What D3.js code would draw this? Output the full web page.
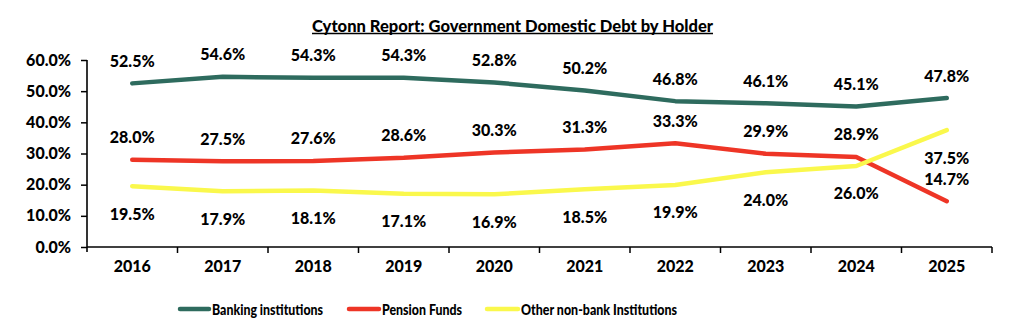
<!DOCTYPE html>
<html><head><meta charset="utf-8">
<script src="https://cdn.jsdelivr.net/npm/d3@7"></script>
<style>
body{margin:0;background:#fff;}
text{font-family:Lato,"Open Sans",sans-serif;font-weight:900;fill:#000;}
</style></head>
<body><svg id="c" width="1012" height="332"></svg>
<script>
const years = ["2016","2017","2018","2019","2020","2021","2022","2023","2024","2025"];
const banking = [52.5,54.6,54.3,54.3,52.8,50.2,46.8,46.1,45.1,47.8];
const pension = [28.0,27.5,27.6,28.6,30.3,31.3,33.3,29.9,28.9,14.7];
const other = [19.5,17.9,18.1,17.1,16.9,18.5,19.9,24.0,26.0,37.5];
const yTicks = [0,10,20,30,40,50,60];
const seriesNames = ["Banking institutions","Pension Funds","Other non-bank Institutions"];
const colors = ["#2E6B5E","#EE3526","#FAF84C"];

const svg = d3.select("#c");
const L=87, R=992, T=60, B=247;
const x = d3.scaleBand().domain(years).range([L,R]);
const y = d3.scaleLinear().domain([0,60]).range([B,T]);
const fs = "16px";

// title
svg.append("text").attr("x",512.5).attr("y",25).attr("text-anchor","middle")
  .attr("dominant-baseline","central").style("font-size","16px").attr("textLength",401)
  .attr("lengthAdjust","spacingAndGlyphs").text("Cytonn Report: Government Domestic Debt by Holder");
svg.append("line").attr("x1",312).attr("x2",713).attr("y1",33.5).attr("y2",33.5)
  .attr("stroke","#000").attr("stroke-width",1.3);

// y axis
const ya = svg.append("g").attr("transform",`translate(${L},0)`)
  .call(d3.axisLeft(y).tickValues(yTicks).tickSize(6).tickPadding(10).tickFormat(d=>d.toFixed(1)+"%"));
ya.select(".domain").remove();
ya.selectAll("line").attr("stroke","#000").attr("stroke-width",1.5);
ya.selectAll("text").style("font-size",fs).attr("font-family",null);
svg.append("line").attr("x1",L).attr("x2",L).attr("y1",T).attr("y2",B+5).attr("stroke","#000").attr("stroke-width",1.6);

// x axis
const xa = svg.append("g").attr("transform",`translate(0,${B})`)
  .call(d3.axisBottom(x).tickSize(0).tickPadding(14));
xa.select(".domain").remove();
xa.selectAll("text").style("font-size",fs).attr("font-family",null);
svg.append("line").attr("x1",L).attr("x2",R).attr("y1",B).attr("y2",B).attr("stroke","#000").attr("stroke-width",1.6);
const bounds = years.map(d=>x(d)).concat([R]);
svg.append("g").selectAll("line").data(bounds.slice(1)).join("line")
  .attr("x1",d=>d).attr("x2",d=>d).attr("y1",B).attr("y2",B+6).attr("stroke","#000").attr("stroke-width",1.5);

const cx = d=>x(d)+x.bandwidth()/2;
const line = d3.line().x((v,i)=>cx(years[i])).y(v=>y(v));
const allSeries = [banking,pension,other];
const offsets = [-23,-23,27];
allSeries.forEach((s,k)=>{
  svg.append("path").attr("d",line(s)).attr("fill","none").attr("stroke",colors[k])
    .attr("stroke-width",4.5).attr("stroke-linecap","round").attr("stroke-linejoin","round");
});
allSeries.forEach((s,k)=>{
  svg.append("g").selectAll("text").data(s).join("text")
    .attr("x",(v,i)=>cx(years[i])).attr("y",v=>y(v)+offsets[k])
    .attr("text-anchor","middle").attr("dominant-baseline","central")
    .style("font-size",fs).text(v=>v.toFixed(1)+"%");
});

// legend
const leg = [[180,212],[349,382],[487,521]];
const legW = [111,80,156];
seriesNames.forEach((n,k)=>{
  svg.append("line").attr("x1",leg[k][0]).attr("x2",leg[k][1]-3).attr("y1",309).attr("y2",309)
    .attr("stroke",colors[k]).attr("stroke-width",4.5).attr("stroke-linecap","round");
  svg.append("text").attr("x",leg[k][1]).attr("y",309).attr("dominant-baseline","central")
    .style("font-size","15.5px").attr("textLength",legW[k]).attr("lengthAdjust","spacingAndGlyphs").text(n);
});
</script></body></html>
